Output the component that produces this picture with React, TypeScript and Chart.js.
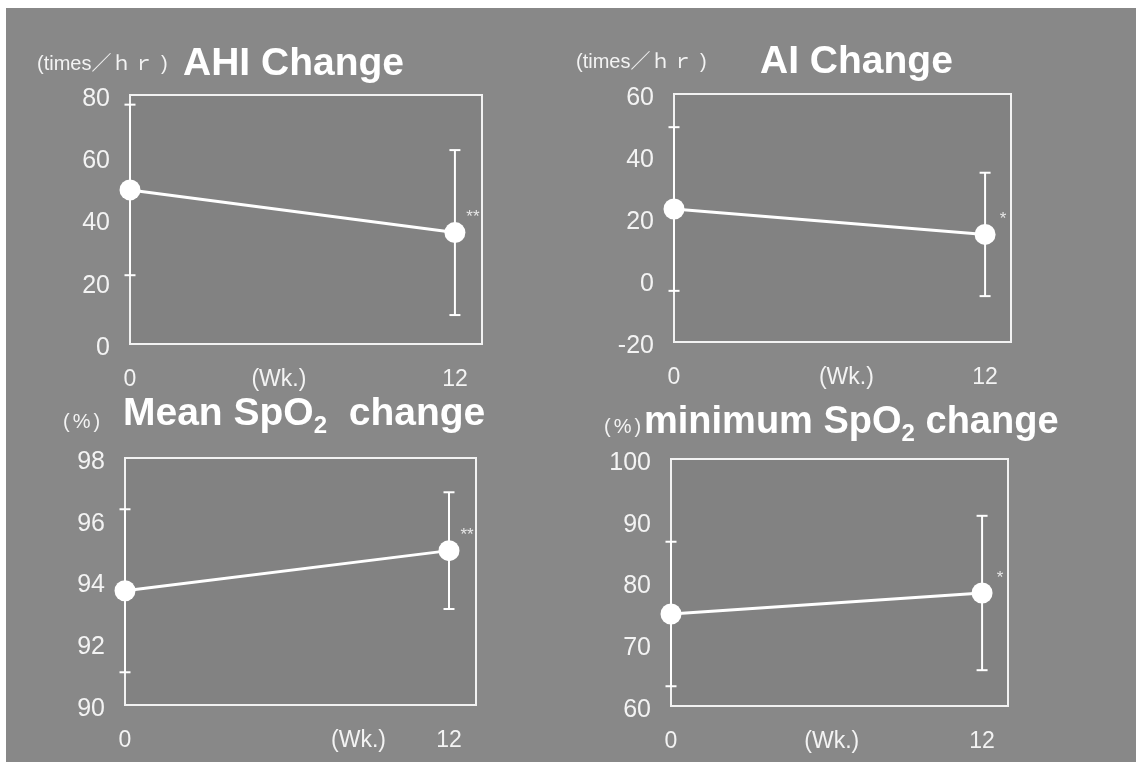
import React, { useEffect, useRef } from "react";
import { Chart, registerables } from "chart.js";

Chart.register(...registerables);

// ---------- data ----------
const weeks = [0, 12];
const xTickLabels = ["0", "(Wk.)", "12"];

const ahiMean = [49.5, 35.8];
const ahiSd = [27.4, 26.5];
const aiMean = [22.9, 14.7];
const aiSd = [26.4, 19.9];
const meanSpo2Mean = [93.7, 95.0];
const meanSpo2Sd = [2.64, 1.89];
const minSpo2Mean = [74.9, 78.3];
const minSpo2Sd = [11.7, 12.5];

const ahiTicks = [0, 20, 40, 60, 80];
const aiTicks = [-20, 0, 20, 40, 60];
const meanSpo2Ticks = [90, 92, 94, 96, 98];
const minSpo2Ticks = [60, 70, 80, 90, 100];

const significance = ["**", "*", "**", "*"];

// ---------- style / layout ----------
const FONT = '"Liberation Sans", Arial, "Noto Sans CJK JP", sans-serif';
const WHITE = "#ffffff";
const TEXT = "#f3f3f3";
const BG = "#888888";
const INNER = "#828282";
const Y_AXIS_W = 90;
const X_AXIS_H = 55;
const PAD_TOP = 45;
const PAD_RIGHT = 40;

type PanelCfg = {
  mean: number[];
  sd: number[];
  yTicks: number[];
  sig: string;
  box: { left: number; top: number; w: number; h: number };
  wk: number;
};

const panels: PanelCfg[] = [
  { mean: ahiMean, sd: ahiSd, yTicks: ahiTicks, sig: significance[0], box: { left: 130, top: 95, w: 352, h: 249 }, wk: 5.5 },
  { mean: aiMean, sd: aiSd, yTicks: aiTicks, sig: significance[1], box: { left: 674, top: 94, w: 337, h: 248 }, wk: 6.65 },
  { mean: meanSpo2Mean, sd: meanSpo2Sd, yTicks: meanSpo2Ticks, sig: significance[2], box: { left: 125, top: 458, w: 351, h: 247 }, wk: 8.65 },
  { mean: minSpo2Mean, sd: minSpo2Sd, yTicks: minSpo2Ticks, sig: significance[3], box: { left: 671, top: 459, w: 337, h: 247 }, wk: 6.2 },
];

const boxPlugin = {
  id: "boxFrame",
  beforeDatasetsDraw(chart: any) {
    const { ctx, chartArea: a } = chart;
    ctx.save();
    ctx.fillStyle = INNER;
    ctx.fillRect(a.left, a.top, a.right - a.left, a.bottom - a.top);
    ctx.strokeStyle = "#f2f2f2";
    ctx.lineWidth = 2;
    ctx.strokeRect(a.left, a.top, a.right - a.left, a.bottom - a.top);
    ctx.restore();
  },
};

function Panel({ cfg }: { cfg: PanelCfg }) {
  const ref = useRef<HTMLCanvasElement>(null);
  const width = cfg.box.w + Y_AXIS_W + PAD_RIGHT;
  const height = cfg.box.h + PAD_TOP + X_AXIS_H;

  useEffect(() => {
    const canvas = ref.current;
    if (!canvas) return;
    const datasets: any[] = [];
    cfg.mean.forEach((m, i) => {
      datasets.push({
        data: [
          { x: weeks[i], y: m - cfg.sd[i] },
          { x: weeks[i], y: m + cfg.sd[i] },
        ],
        showLine: true,
        borderColor: WHITE,
        borderWidth: 2,
        pointStyle: "line",
        pointRadius: 5.5,
        pointHoverRadius: 5.5,
        pointBorderColor: WHITE,
        pointBorderWidth: 2,
        clip: false,
        order: 2,
      });
    });
    datasets.push({
      data: weeks.map((w, i) => ({ x: w, y: cfg.mean[i] })),
      showLine: true,
      borderColor: WHITE,
      borderWidth: 3,
      pointRadius: 10.5,
      pointHoverRadius: 10.5,
      pointBackgroundColor: WHITE,
      pointBorderColor: WHITE,
      pointBorderWidth: 0,
      clip: false,
      order: 1,
    });

    const sigPlugin = {
      id: "sig",
      afterDatasetsDraw(chart: any) {
        const { ctx, scales } = chart;
        const x = scales.x.getPixelForValue(weeks[1]) + 18;
        const y = scales.y.getPixelForValue(cfg.mean[1]) - 15;
        ctx.save();
        ctx.fillStyle = "#e6e6e6";
        ctx.font = `17px ${FONT}`;
        ctx.textAlign = "center";
        ctx.textBaseline = "middle";
        ctx.fillText(cfg.sig, x, y);
        ctx.restore();
      },
    };

    const chart = new Chart(canvas, {
      type: "scatter",
      data: { datasets },
      options: {
        responsive: false,
        animation: false,
        events: [],
        layout: { padding: { top: PAD_TOP, right: PAD_RIGHT, left: 0, bottom: 0 } },
        plugins: { legend: { display: false }, tooltip: { enabled: false } },
        scales: {
          x: {
            type: "linear",
            min: 0,
            max: 13,
            grid: { display: false, drawTicks: false },
            border: { display: false },
            afterBuildTicks: (s: any) => {
              s.ticks = [weeks[0], cfg.wk, weeks[1]].map((v) => ({ value: v }));
            },
            afterFit: (s: any) => {
              s.height = X_AXIS_H;
            },
            ticks: {
              autoSkip: false,
              maxRotation: 0,
              padding: 22,
              color: TEXT,
              font: { family: FONT, size: 23 },
              callback: (_v: any, i: number) => xTickLabels[i],
            },
          },
          y: {
            type: "linear",
            min: cfg.yTicks[0],
            max: cfg.yTicks[cfg.yTicks.length - 1],
            grid: { display: false, drawTicks: false },
            border: { display: false },
            afterBuildTicks: (s: any) => {
              s.ticks = cfg.yTicks.map((v) => ({ value: v }));
            },
            afterFit: (s: any) => {
              s.width = Y_AXIS_W;
            },
            ticks: {
              padding: 20,
              labelOffset: 4,
              color: TEXT,
              font: { family: FONT, size: 25 },
            },
          },
        },
      } as any,
      plugins: [boxPlugin, sigPlugin],
    });
    return () => chart.destroy();
  }, [cfg]);

  return (
    <canvas
      ref={ref}
      width={width}
      height={height}
      style={{
        position: "absolute",
        left: cfg.box.left - Y_AXIS_W,
        top: cfg.box.top - PAD_TOP,
        width,
        height,
      }}
    />
  );
}

function Txt({
  left,
  baseline,
  size,
  bold,
  children,
  spacing,
}: {
  left: number;
  baseline: number;
  size: number;
  bold?: boolean;
  children: React.ReactNode;
  spacing?: number;
}) {
  return (
    <div
      style={{
        position: "absolute",
        left,
        top: baseline - 0.8465 * size,
        fontSize: size,
        lineHeight: 1,
        fontFamily: FONT,
        fontWeight: bold ? "bold" : "normal",
        color: bold ? "#ffffff" : TEXT,
        whiteSpace: "pre",
        letterSpacing: spacing ?? 0,
        zIndex: 2,
      }}
    >
      {children}
    </div>
  );
}

const Sub = ({ children }: { children: React.ReactNode }) => (
  <span style={{ fontSize: 24, position: "relative", top: 8 }}>{children}</span>
);

const Unit = () => (
  <>
    {"(times／"}
    <span style={{ letterSpacing: 2 }}>{"ｈｒ"}</span>
    {" )"}
  </>
);

export default function App() {
  return (
    <div
      style={{
        position: "absolute",
        left: 0,
        top: 0,
        width: 1136,
        height: 762,
        background: "#ffffff",
        overflow: "hidden",
      }}
    >
      <div
        style={{
          position: "absolute",
          left: 6,
          top: 8,
          width: 1130,
          height: 754,
          background: BG,
        }}
      />
      {panels.map((p, i) => (
        <Panel key={i} cfg={p} />
      ))}
      <Txt left={37} baseline={70} size={20}><Unit /></Txt>
      <Txt left={183} baseline={75} size={39} bold>{"AHI Change"}</Txt>
      <Txt left={576} baseline={68} size={20}><Unit /></Txt>
      <Txt left={760} baseline={73} size={39} bold>{"AI Change"}</Txt>
      <Txt left={63} baseline={428} size={20} spacing={3}>{"(%)"}</Txt>
      <Txt left={123} baseline={425} size={39} bold>
        {"Mean SpO"}
        <Sub>2</Sub>
        {"  change"}
      </Txt>
      <Txt left={604} baseline={433} size={20} spacing={3}>{"(%)"}</Txt>
      <Txt left={644} baseline={433} size={38} bold>
        {"minimum SpO"}
        <Sub>2</Sub>
        {" change"}
      </Txt>
    </div>
  );
}
